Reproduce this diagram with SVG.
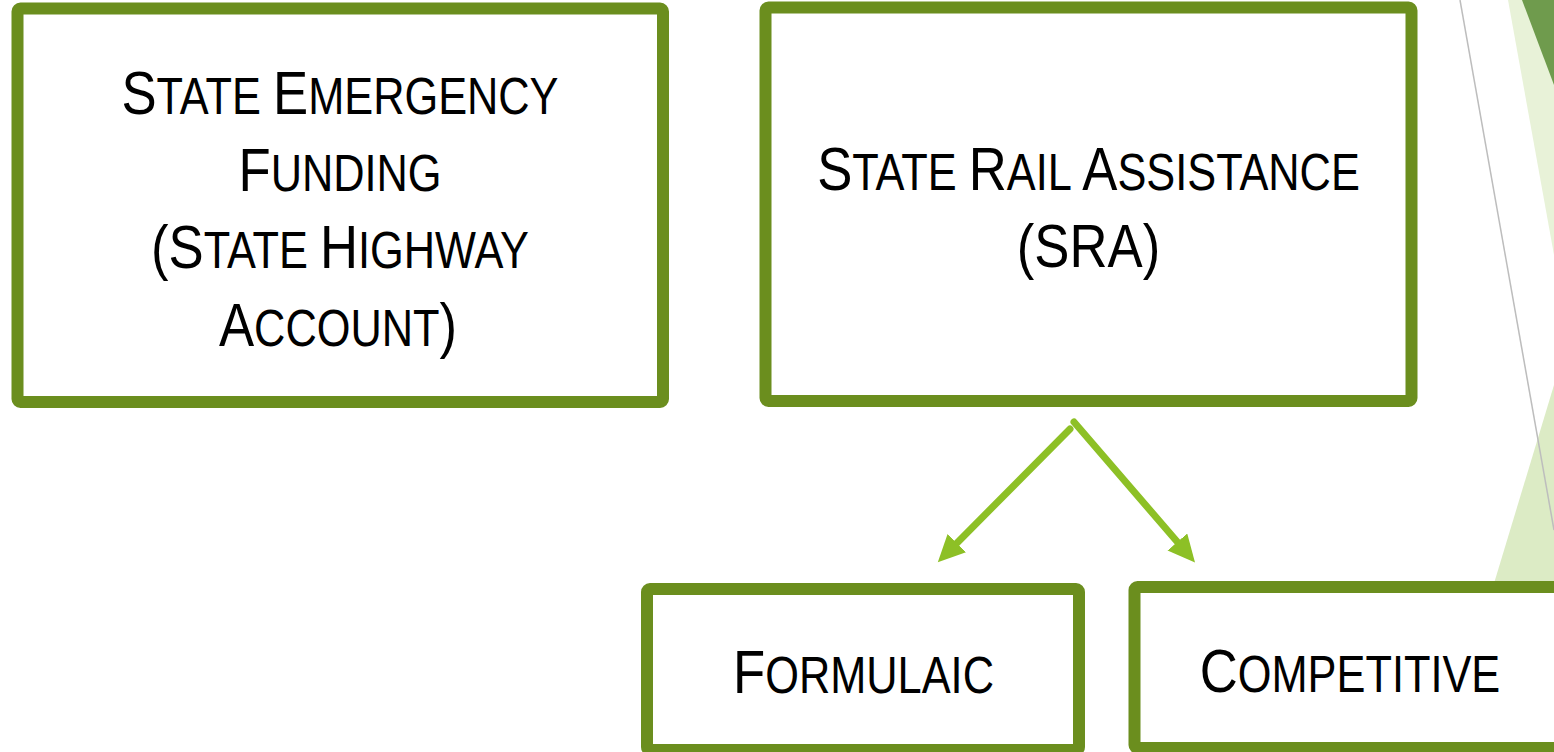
<svg xmlns="http://www.w3.org/2000/svg" width="1554" height="752" viewBox="0 0 1554 752">
  <style>
    .box { fill: #ffffff; stroke: #6B8E1E; stroke-width: 12; }
    .lbl { font-family: "Liberation Sans", Arial, sans-serif; fill: #000000; text-anchor: middle; }
    .big { font-size: 62px; }
    .sm { font-size: 51px; }
    .conn { stroke: #8DC026; stroke-width: 7; fill: none; stroke-linecap: round; }
  </style>
  <defs>
    <marker id="arrow" markerUnits="userSpaceOnUse" markerWidth="30" markerHeight="28" refX="4" refY="13" orient="auto" viewBox="0 0 30 28">
      <path d="M0,0 L27,13 L0,26 z" fill="#8DC026"/>
    </marker>
  </defs>
  <rect x="0" y="0" width="1554" height="752" fill="#ffffff"/>

  <g id="background">
    <polygon points="1508,0 1554,0 1554,255" fill="#E8F2D8"/>
    <polygon points="1522,0 1554,0 1554,85" fill="#6F9B4D"/>
    <polygon points="1554,385 1554,752 1443,752" fill="#DCEBC5"/>
    <line x1="1460" y1="0" x2="1554" y2="530" stroke="#BDBDBD" stroke-width="1.5"/>
  </g>

  <g id="connectors">
    <line class="conn" x1="1070" y1="429" x2="954" y2="546" marker-end="url(#arrow)"/>
    <line class="conn" x1="1074" y1="422" x2="1180" y2="545" marker-end="url(#arrow)"/>
  </g>

  <g id="node-emergency">
    <rect class="box" x="17.5" y="8.5" width="645.5" height="393.5" rx="3"/>
    <text class="lbl" transform="translate(340,114) scale(0.85,1)"><tspan class="big">S</tspan><tspan class="sm">TATE </tspan><tspan class="big">E</tspan><tspan class="sm">MERGENCY</tspan></text>
    <text class="lbl" transform="translate(340,191) scale(0.85,1)"><tspan class="big">F</tspan><tspan class="sm">UNDING</tspan></text>
    <text class="lbl" transform="translate(340,268) scale(0.85,1)"><tspan class="big">(S</tspan><tspan class="sm">TATE </tspan><tspan class="big">H</tspan><tspan class="sm">IGHWAY</tspan></text>
    <text class="lbl" transform="translate(338,346) scale(0.85,1)"><tspan class="big">A</tspan><tspan class="sm">CCOUNT</tspan><tspan class="big">)</tspan></text>
  </g>

  <g id="node-sra">
    <rect class="box" x="765.5" y="7.5" width="646" height="393.5" rx="3"/>
    <text class="lbl" transform="translate(1088.5,190) scale(0.85,1)"><tspan class="big">S</tspan><tspan class="sm">TATE </tspan><tspan class="big">R</tspan><tspan class="sm">AIL </tspan><tspan class="big">A</tspan><tspan class="sm">SSISTANCE</tspan></text>
    <text class="lbl big" transform="translate(1088.5,267) scale(0.85,1)">(SRA)</text>
  </g>

  <g id="node-formulaic">
    <rect class="box" x="647" y="589" width="432" height="161" rx="3"/>
    <text class="lbl" transform="translate(863.5,693) scale(0.85,1)"><tspan class="big">F</tspan><tspan class="sm">ORMULAIC</tspan></text>
  </g>

  <g id="node-competitive">
    <rect class="box" x="1134.5" y="587" width="460" height="161" rx="3"/>
    <text class="lbl" transform="translate(1350,692) scale(0.85,1)"><tspan class="big">C</tspan><tspan class="sm">OMPETITIVE</tspan></text>
  </g>
</svg>
